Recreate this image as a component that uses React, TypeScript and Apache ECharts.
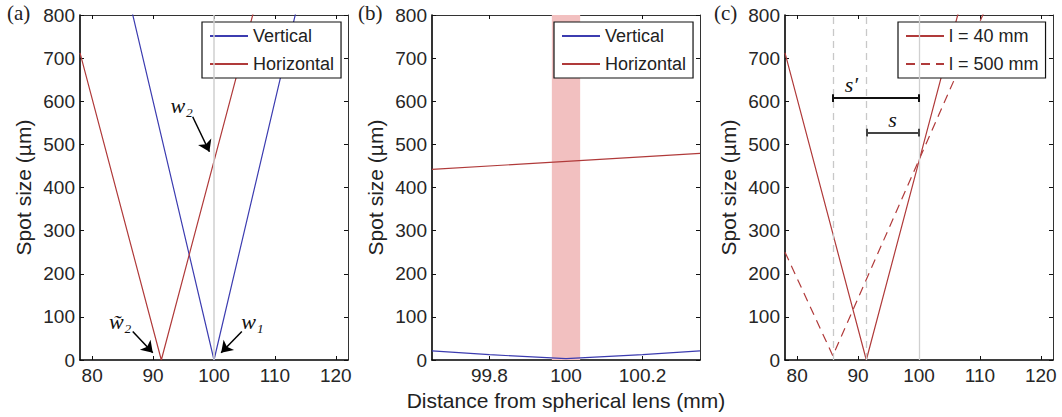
import React, { useEffect, useRef } from "react";
import * as echarts from "echarts";

// ---------- data ----------
const xTicksWide = [80, 90, 100, 110, 120];
const xTicksNarrow = [99.8, 100, 100.2];
const yMax = 800;

// panel (a)
const aVertical = [[78, 1320], [100, 0], [122, 1320]];
const aHorizontal = [[78, 712], [91.35, 0], [122, 1634]];

// panel (b)
const bVertical = [[99.65, 21], [99.8, 12.4], [100, 3], [100.2, 12.4], [100.35, 21]];
const bHorizontal = [[99.65, 442], [100.35, 479]];
const bBand = [99.963, 100.037];

// panel (c)
const cL40 = [[78, 712], [91.35, 0], [122, 1634]];
const cL500 = [[78, 250], [85.85, 10], [122, 1170]];
const focusShort = 91.35;
const focusLong = 85.85;
const lensPos = 100;
const sBarY = 527;
const sPrimeBarY = 607;
const capHalf = 9;

const BLUE = "#3c3cb0";
const RED = "#b03a3a";
const SANS = "Liberation Sans, Arial, Helvetica, sans-serif";
const SERIF = "Liberation Serif, Times New Roman, serif";
const TXT = "#222";

function axesFor(grid: number, min: number, max: number, ticks: number[]) {
  const tickStyle = { show: true, inside: true, length: 4, lineStyle: { color: "#111", width: 1 }, customValues: ticks };
  const xs: any[] = [
    {
      type: "value", gridIndex: grid, min, max, position: "bottom",
      axisLine: { show: true, onZero: false, lineStyle: { color: "#000", width: 1.6 } },
      axisTick: tickStyle,
      axisLabel: { show: true, customValues: ticks, margin: 6, color: "#262626", fontSize: 19, fontFamily: SANS },
      splitLine: { show: false },
    },
    {
      type: "value", gridIndex: grid, min, max, position: "top",
      axisLine: { show: true, onZero: false, lineStyle: { color: "#333", width: 1 } },
      axisTick: tickStyle,
      axisLabel: { show: false },
      splitLine: { show: false },
    },
  ];
  const yTick = { show: true, inside: true, length: 4, lineStyle: { color: "#111", width: 1 } };
  const ys: any[] = [
    {
      type: "value", gridIndex: grid, min: 0, max: yMax, interval: 100, position: "left",
      name: "Spot size (µm)", nameLocation: "middle", nameGap: 46, nameRotate: 90,
      nameTextStyle: { fontSize: 21, color: TXT, fontFamily: SANS },
      axisLine: { show: true, onZero: false, lineStyle: { color: "#000", width: 1.6 } },
      axisTick: yTick,
      axisLabel: { show: true, margin: 5, color: "#262626", fontSize: 19, fontFamily: SANS },
      splitLine: { show: false },
    },
    {
      type: "value", gridIndex: grid, min: 0, max: yMax, interval: 100, position: "right",
      axisLine: { show: true, onZero: false, lineStyle: { color: "#333", width: 1 } },
      axisTick: yTick,
      axisLabel: { show: false },
      splitLine: { show: false },
    },
  ];
  return { xs, ys };
}

function legendFor(left: number, names: string[]) {
  return {
    data: names, orient: "vertical", left, top: 22,
    itemWidth: 38, itemHeight: 14, itemGap: 10, padding: [5, 7, 5, 7],
    borderColor: "#111", borderWidth: 1.2, backgroundColor: "#fff",
    textStyle: { fontSize: 18, color: TXT, fontFamily: SANS },
    itemStyle: { color: "rgba(0,0,0,0)", borderWidth: 0, opacity: 0 },
    selectedMode: false,
  };
}

const noteLabel = (text: string, x: number, y: number) => ({
  coord: [x, y],
  label: { show: true, position: "inside", formatter: text, fontSize: 22, fontStyle: "italic", fontFamily: SERIF, color: "#111" },
});

export default function App() {
  const ref = useRef<HTMLDivElement>(null);
  useEffect(() => {
    if (!ref.current) return;
    const chart = echarts.init(ref.current, undefined, { renderer: "svg" });
    const a = axesFor(0, 78, 122, xTicksWide);
    const b = axesFor(1, 99.65, 100.35, xTicksNarrow);
    const c = axesFor(2, 78, 122, xTicksWide);
    b.xs[0].name = "Distance from spherical lens (mm)";
    b.xs[0].nameLocation = "middle";
    b.xs[0].nameGap = 27;
    b.xs[0].nameTextStyle = { fontSize: 21, color: TXT, fontFamily: SANS };

    const lineBase = { type: "line", symbol: "none", showSymbol: false, z: 3, clip: true };
    const arrowLine = { color: "#000", width: 1.5, type: "solid" };
    const panelTitle = (text: string, left: number) => ({
      text, left, top: 2, padding: 0,
      textStyle: { fontFamily: SERIF, fontSize: 21, fontWeight: "normal", color: TXT },
    });

    const option: any = {
      animation: false,
      backgroundColor: "#fff",
      title: [panelTitle("(a)", 7), panelTitle("(b)", 358), panelTitle("(c)", 714)],
      grid: [
        { left: 80, top: 15, width: 268, height: 345, outerBoundsMode: "none" },
        { left: 432, top: 15, width: 268, height: 345, outerBoundsMode: "none" },
        { left: 785, top: 15, width: 268, height: 345, outerBoundsMode: "none" },
      ],
      xAxis: [...a.xs, ...b.xs, ...c.xs],
      yAxis: [...a.ys, ...b.ys, ...c.ys],
      legend: [
        legendFor(202, ["Vertical", "Horizontal"]),
        legendFor(554, ["Vertical", "Horizontal"]),
        legendFor(898, ["l = 40 mm", "l = 500 mm"]),
      ],
      series: [
        // panel a
        {
          type: "line", name: "refA", xAxisIndex: 0, yAxisIndex: 0, data: [], z: 1, silent: true,
          markLine: { silent: true, symbol: "none", label: { show: false }, lineStyle: { color: "#cfcfcf", width: 1.5, type: "solid" }, data: [{ xAxis: lensPos }] },
        },
        { ...lineBase, name: "Vertical", xAxisIndex: 0, yAxisIndex: 0, data: aVertical, lineStyle: { color: BLUE, width: 1.2 }, itemStyle: { color: BLUE } },
        { ...lineBase, name: "Horizontal", xAxisIndex: 0, yAxisIndex: 0, data: aHorizontal, lineStyle: { color: RED, width: 1.2 }, itemStyle: { color: RED } },
        {
          type: "line", name: "notesA", xAxisIndex: 0, yAxisIndex: 0, data: [], z: 5, silent: true,
          markLine: {
            silent: true, symbol: ["none", "arrow"], symbolSize: 11, label: { show: false }, lineStyle: arrowLine,
            data: [
              [{ coord: [96.5, 564] }, { coord: [99.25, 483] }],
              [{ coord: [86.66, 66] }, { coord: [89.95, 17] }],
              [{ coord: [104.57, 66] }, { coord: [101.17, 17] }],
            ],
          },
          markPoint: {
            silent: true, symbol: "circle", symbolSize: 1, itemStyle: { color: "transparent" },
            data: [noteLabel("w₂", 94.7, 591), noteLabel("w̃₂", 84.6, 89), noteLabel("w₁", 106.3, 89)],
          },
        },
        // panel b
        {
          type: "line", name: "bandB", xAxisIndex: 2, yAxisIndex: 2, data: [], z: 1, silent: true,
          markArea: { silent: true, itemStyle: { color: "#f2c0c0", opacity: 1 }, data: [[{ xAxis: bBand[0] }, { xAxis: bBand[1] }]] },
        },
        { ...lineBase, name: "Vertical", xAxisIndex: 2, yAxisIndex: 2, data: bVertical, lineStyle: { color: BLUE, width: 1.2 }, itemStyle: { color: BLUE } },
        { ...lineBase, name: "Horizontal", xAxisIndex: 2, yAxisIndex: 2, data: bHorizontal, lineStyle: { color: RED, width: 1.2 }, itemStyle: { color: RED } },
        // panel c
        {
          type: "line", name: "refC", xAxisIndex: 4, yAxisIndex: 4, data: [], z: 1, silent: true,
          markLine: {
            silent: true, symbol: "none", label: { show: false },
            data: [
              { xAxis: lensPos, lineStyle: { color: "#d0d0d0", width: 1.3, type: "solid" } },
              { xAxis: focusLong, lineStyle: { color: "#c8c8c8", width: 1.3, type: [7, 5] } },
              { xAxis: focusShort, lineStyle: { color: "#c8c8c8", width: 1.3, type: [7, 5] } },
            ],
          },
        },
        { ...lineBase, name: "l = 40 mm", xAxisIndex: 4, yAxisIndex: 4, data: cL40, lineStyle: { color: RED, width: 1.2 }, itemStyle: { color: RED } },
        { ...lineBase, name: "l = 500 mm", xAxisIndex: 4, yAxisIndex: 4, data: cL500, lineStyle: { color: RED, width: 1.2, type: [9, 6] }, itemStyle: { color: RED } },
        {
          type: "line", name: "notesC", xAxisIndex: 4, yAxisIndex: 4, data: [], z: 5, silent: true,
          markLine: {
            silent: true, symbol: "none", label: { show: false },
            data: [
              [{ coord: [focusLong, sPrimeBarY] }, { coord: [lensPos, sPrimeBarY] }],
              [{ coord: [focusLong, sPrimeBarY - capHalf] }, { coord: [focusLong, sPrimeBarY + capHalf] }],
              [{ coord: [lensPos, sPrimeBarY - capHalf] }, { coord: [lensPos, sPrimeBarY + capHalf] }],
              [{ coord: [focusShort, sBarY], lineStyle: { color: "#444", width: 2, type: "solid" } }, { coord: [lensPos, sBarY] }],
              [{ coord: [focusShort, sBarY - capHalf], lineStyle: { color: "#444", width: 2, type: "solid" } }, { coord: [focusShort, sBarY + capHalf] }],
              [{ coord: [lensPos, sBarY - capHalf], lineStyle: { color: "#444", width: 2, type: "solid" } }, { coord: [lensPos, sBarY + capHalf] }],
            ],
            lineStyle: { color: "#111", width: 2, type: "solid" },
          },
          markPoint: {
            silent: true, symbol: "circle", symbolSize: 1, itemStyle: { color: "transparent" },
            data: [noteLabel("s′", 88.9, 638), noteLabel("s", 95.66, 557)],
          },
        },
      ],
    };
    chart.setOption(option);
    return () => chart.dispose();
  }, []);
  return <div ref={ref} style={{ position: "fixed", left: 0, top: 0, width: 1062, height: 417, background: "#fff" }} />;
}
